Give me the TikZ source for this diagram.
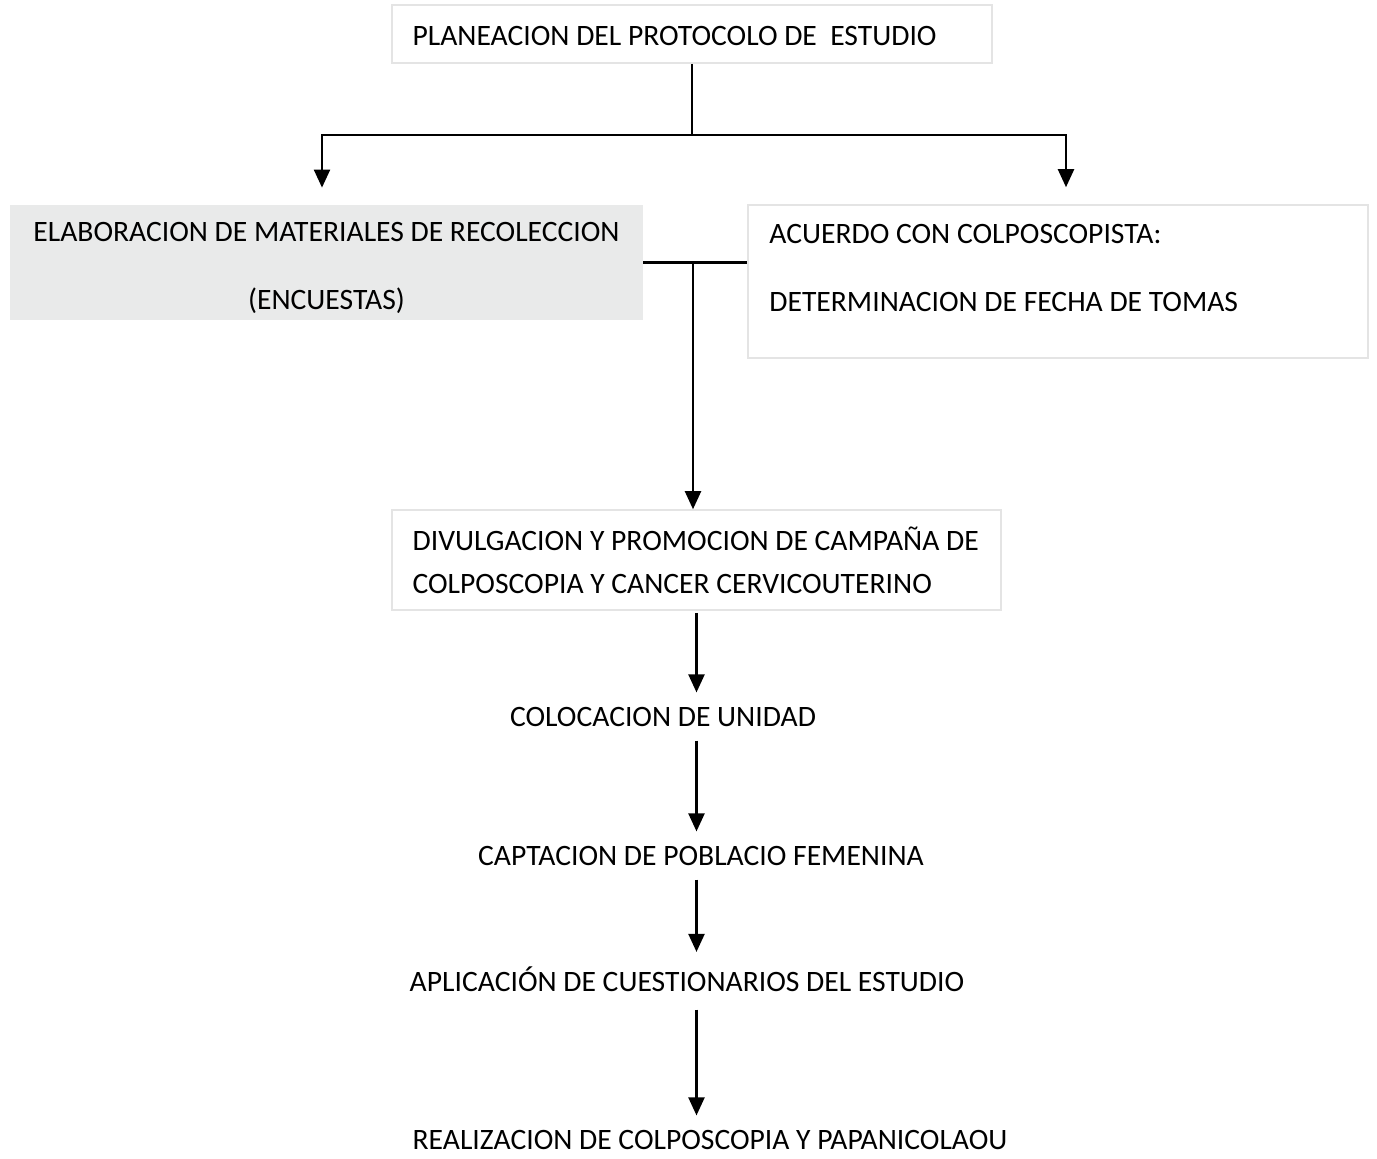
\documentclass[tikz,border=0pt]{standalone}
\usepackage{fontspec}
\setmainfont{Carlito}
\usetikzlibrary{arrows.meta}
\definecolor{boxgray}{RGB}{233,234,234}
\definecolor{boxline}{RGB}{228,228,228}

\begin{document}
\begin{tikzpicture}[x=0.5pt, y=-0.5pt, >={Triangle[width=8pt,length=9pt]},
    font=\fontsize{14.8}{21.5}\selectfont,
    box/.style={draw=boxline, line width=0.8pt, inner sep=0pt},
    steptext/.style={inner sep=0pt},
    link/.style={line width=1.1pt},
    arrow/.style={link, ->},
    flow/.style={arrow, shorten <=7pt, shorten >=7pt}]
  \useasboundingbox (0,0) rectangle (1377,1158);

  % boxes
  \node[box, minimum width=300pt, minimum height=29pt] (plan) at (692,34) {};
  \node[steptext, anchor=west] (plantxt) at ([xshift=10.5pt, yshift=-1pt]plan.west)
    {PLANEACION DEL PROTOCOLO DE\ \ ESTUDIO};
  \node[fill=boxgray, inner sep=0pt, minimum width=316.5pt, minimum height=57.5pt]
    (elab) at (326.5,262.5) {};
  \node[steptext, align=center] (elabtxt) at (326.5,268)
    {ELABORACION DE MATERIALES DE RECOLECCION\\[12.5pt](ENCUESTAS)};
  \node[box, minimum width=310pt, minimum height=76.5pt] (acuerdo) at (1058,281.5) {};
  \node[steptext, anchor=west, align=left] (acuerdotxt) at (769,268)
    {ACUERDO CON COLPOSCOPISTA:\\[12.5pt]DETERMINACION DE FECHA DE TOMAS};
  \node[box, minimum width=304.5pt, minimum height=50pt] (divul) at (696.5,560) {};
  \node[steptext, anchor=west, align=left] (divultxt) at ([xshift=10.5pt]divul.west)
    {DIVULGACION Y PROMOCION DE CAMPAÑA DE\\COLPOSCOPIA Y CANCER CERVICOUTERINO};

  % steps
  \node[steptext, anchor=base] (coloc) at (663,726) {COLOCACION DE UNIDAD};
  \node[steptext, anchor=base] (capt) at (701,865) {CAPTACION DE POBLACIO FEMENINA};
  \node[steptext, anchor=base] (aplic) at (687,991) {APLICACIÓN DE CUESTIONARIOS DEL ESTUDIO};
  \node[steptext, anchor=base] (real) at (710,1149) {REALIZACION DE COLPOSCOPIA Y PAPANICOLAOU};

  % connectors
  \coordinate (fork) at (692,135);
  \draw[link] (plan.south) -- (fork);
  \draw[arrow, shorten >=8.5pt] (fork) -| ([xshift=-2.25pt]elab.north);
  \draw[arrow, shorten >=8.5pt] (fork) -| ([xshift=4pt]acuerdo.north);
  \draw[link] (elab.east) -- (elab.east -| acuerdo.west);
  \coordinate (mid) at ([xshift=-1.75pt]divul.north |- elab.east);
  \draw[arrow] (mid) -- ([xshift=-1.75pt]divul.north);
  \draw[flow, shorten <=1pt] (divul.south) -- (coloc.north -| divul.south);
  \draw[flow] (coloc.south -| divul.south) -- (capt.north -| divul.south);
  \draw[flow] (capt.south -| divul.south) -- (aplic.north -| divul.south);
  \draw[flow, shorten <=9pt] (aplic.south -| divul.south) -- (real.north -| divul.south);
\end{tikzpicture}
\end{document}
